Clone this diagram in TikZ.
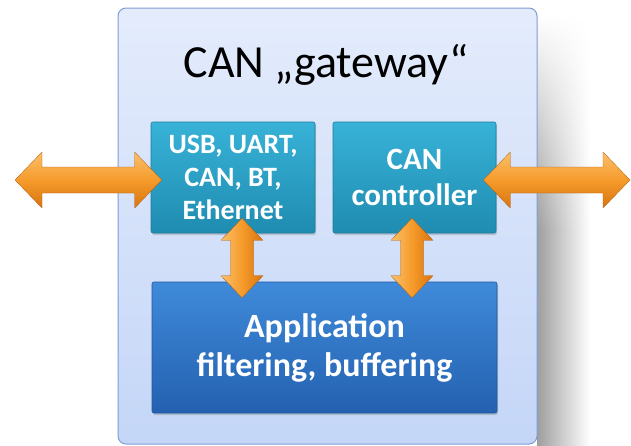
\documentclass[tikz,border=0pt]{standalone}
\usepackage{fontspec}
\setmainfont{Carlito}
\usetikzlibrary{calc,shadows,fadings}
\definecolor{outerfillT}{HTML}{E4ECFC}
\definecolor{outerfillB}{HTML}{C4D6F7}
\definecolor{outerdraw}{HTML}{7E9DD8}
\definecolor{tealT}{HTML}{38B2D8}
\definecolor{tealB}{HTML}{1F8CB0}
\definecolor{tealD}{HTML}{1B7D9E}
\definecolor{blueT}{HTML}{3F8ADA}
\definecolor{blueB}{HTML}{2461B0}
\definecolor{blueD}{HTML}{1F56A0}
\definecolor{orT}{HTML}{FBC06A}
\definecolor{orM}{HTML}{F59B2B}
\definecolor{orB}{HTML}{DA7410}
\tikzfading[name=shadowfade, top color=transparent!100, bottom color=transparent!0, middle color=transparent!0]
\tikzset{
  outerbox/.style={draw=outerdraw, line width=1pt, rounded corners=8pt,
    top color=outerfillT, bottom color=outerfillB, minimum width=419pt, minimum height=436pt},
  tbox/.style={draw=tealD, line width=0.6pt, rounded corners=2pt, top color=tealT, bottom color=tealB,
    minimum width=164pt, minimum height=111pt, text=white, align=center,
    font=\fontsize{28}{33}\selectfont\bfseries,
    drop shadow={opacity=0.35, shadow xshift=1pt, shadow yshift=-2pt}},
  bbox/.style={draw=blueD, line width=0.6pt, rounded corners=2pt, top color=blueT, bottom color=blueB,
    minimum width=345pt, minimum height=131pt, text=white, align=center,
    font=\fontsize{34}{39}\selectfont\bfseries,
    drop shadow={opacity=0.35, shadow xshift=1pt, shadow yshift=-2pt}},
  harrowfill/.style={top color=orT, bottom color=orB, middle color=orM, draw=orB!80!black, line width=0.3pt},
  varrowfill/.style={left color=orT, right color=orB, middle color=orM, draw=orB!80!black, line width=0.3pt},
}
\begin{document}
\begin{tikzpicture}[x=1pt,y=-1pt]
\useasboundingbox (0,0) rectangle (631,445);
% shadow right of outer box
\begin{scope}
\clip (537,15) rectangle (590,445);
\shade[left color=black!38, right color=white, path fading=shadowfade] (537,15) rectangle (590,445);
\end{scope}
\node[outerbox] (gw) at (327.5,226) {};
\node[font=\fontsize{46}{50}\selectfont] (title) at (326,65) {CAN „gateway“};
\node[tbox] (iface) at (233,177.5) {USB, UART,\\CAN, BT,\\Ethernet};
\node[tbox, minimum width=163pt, font=\fontsize{31}{36}\selectfont\bfseries] (canc) at (414.5,177.5) {CAN\\controller};
\node[bbox] (app) at (324.5,347.5) {Application\\filtering, buffering};
% connector end points
\coordinate (lfree) at (15,180);
\coordinate (lin) at ($(iface.west)+(11,2.5)$);
\coordinate (rin) at ($(canc.east)+(-13,2.5)$);
\coordinate (rfree) at (630,180);
\coordinate (v1a) at ($(iface.south)+(9,-15)$);
\coordinate (v1b) at ($(app.north)+(-82.5,16)$);
\coordinate (v2a) at ($(canc.south)+(-2.5,-15)$);
\coordinate (v2b) at ($(app.north)+(87.5,16)$);
% horizontal double arrows
\shade[harrowfill] (lfree) -- ++(27,-28) -- ++(0,15) -- ($(lin)+(-27,-13)$) -- ($(lin)+(-27,-28)$) -- (lin)
  -- ($(lin)+(-27,28)$) -- ($(lin)+(-27,13)$) -- ($(lfree)+(27,13)$) -- ($(lfree)+(27,28)$) -- cycle;
\shade[harrowfill] (rin) -- ++(27,-28) -- ++(0,15) -- ($(rfree)+(-27,-13)$) -- ($(rfree)+(-27,-28)$) -- (rfree)
  -- ($(rfree)+(-27,28)$) -- ($(rfree)+(-27,13)$) -- ($(rin)+(27,13)$) -- ($(rin)+(27,28)$) -- cycle;
% vertical double arrows
\shade[varrowfill] (v1a) -- ++(21,22) -- ++(-9.5,0) -- ($(v1b)+(11.5,-22)$) -- ($(v1b)+(21,-22)$) -- (v1b)
  -- ($(v1b)+(-21,-22)$) -- ($(v1b)+(-11.5,-22)$) -- ($(v1a)+(-11.5,22)$) -- ($(v1a)+(-21,22)$) -- cycle;
\shade[varrowfill] (v2a) -- ++(21,22) -- ++(-9.5,0) -- ($(v2b)+(11.5,-22)$) -- ($(v2b)+(21,-22)$) -- (v2b)
  -- ($(v2b)+(-21,-22)$) -- ($(v2b)+(-11.5,-22)$) -- ($(v2a)+(-11.5,22)$) -- ($(v2a)+(-21,22)$) -- cycle;
\end{tikzpicture}
\end{document}
